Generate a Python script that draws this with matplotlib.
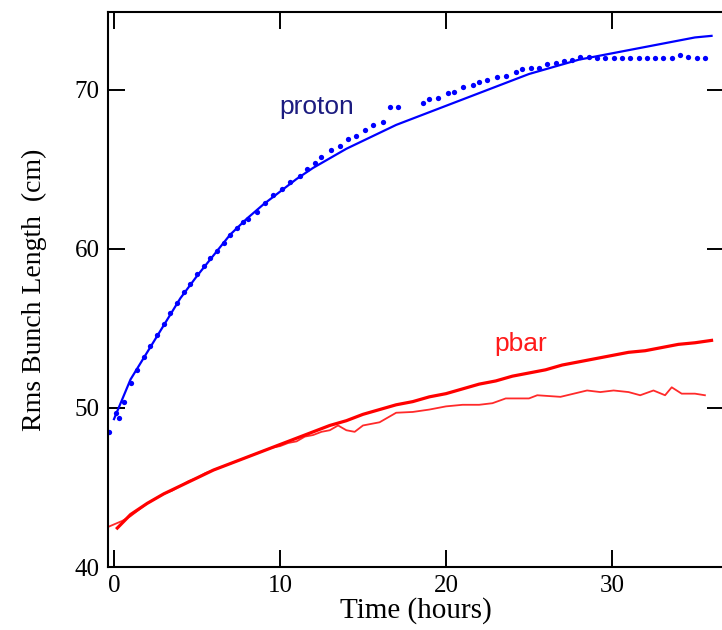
import matplotlib
matplotlib.use("Agg")
import matplotlib.pyplot as plt

# ---- data ----
proton_fit_t = [0, 1, 2, 3, 4, 5, 6, 7, 8, 9, 10, 11, 12, 13, 14, 15, 16, 17, 18,
                19, 20, 21, 22, 23, 24, 25, 26, 27, 28, 29, 30, 31, 32, 33, 34, 35, 36]
proton_fit_y = [49.3, 51.8, 53.5, 55.2, 56.9, 58.3, 59.6, 60.9, 61.9, 62.8, 63.6, 64.4,
                65.1, 65.7, 66.3, 66.8, 67.3, 67.8, 68.2, 68.6, 69.0, 69.4, 69.8, 70.2,
                70.6, 71.0, 71.3, 71.6, 71.9, 72.1, 72.3, 72.5, 72.7, 72.9, 73.1, 73.3, 73.4]

proton_meas_t = [-0.3, 0.1, 0.3, 0.6, 1.0, 1.4, 1.8, 2.2, 2.6, 3.0, 3.4, 3.8, 4.2, 4.6,
                 5.0, 5.4, 5.8, 6.2, 6.6, 7.0, 7.4, 7.8, 8.1, 8.6, 9.1, 9.6, 10.1, 10.6,
                 11.2, 11.6, 12.1, 12.5, 13.1, 13.6, 14.1, 14.6, 15.1, 15.6, 16.2, 16.6,
                 17.1, 18.6, 19.0, 19.5, 20.1, 20.5, 21.0, 21.6, 22.0, 22.5, 23.1, 23.6,
                 24.2, 24.6, 25.1, 25.6, 26.1, 26.6, 27.1, 27.6, 28.1, 28.6, 29.1, 29.6,
                 30.1, 30.6, 31.1, 31.6, 32.1, 32.6, 33.1, 33.6, 34.1, 34.6, 35.1, 35.6]
proton_meas_y = [48.5, 49.7, 49.4, 50.4, 51.6, 52.4, 53.2, 53.9, 54.6, 55.3, 56.0, 56.6,
                 57.3, 57.8, 58.4, 58.9, 59.4, 59.9, 60.4, 60.9, 61.3, 61.7, 61.9, 62.3,
                 62.9, 63.4, 63.8, 64.2, 64.6, 65.0, 65.4, 65.8, 66.2, 66.5, 66.9, 67.1,
                 67.5, 67.8, 68.0, 68.9, 68.9, 69.2, 69.4, 69.5, 69.8, 69.9, 70.2, 70.3,
                 70.5, 70.6, 70.8, 70.9, 71.1, 71.3, 71.4, 71.4, 71.6, 71.7, 71.8, 71.9,
                 72.1, 72.1, 72.0, 72.0, 72.0, 72.0, 72.0, 72.0, 72.0, 72.0, 72.0, 72.0,
                 72.2, 72.1, 72.0, 72.0]

pbar_fit_t = [0.2, 1, 2, 3, 4, 5, 6, 7, 8, 9, 10, 11, 12, 13, 14, 15, 16, 17, 18, 19,
              20, 21, 22, 23, 24, 25, 26, 27, 28, 29, 30, 31, 32, 33, 34, 35, 36]
pbar_fit_y = [42.45, 43.3, 44.0, 44.6, 45.1, 45.6, 46.1, 46.5, 46.9, 47.3, 47.7, 48.1,
              48.5, 48.9, 49.2, 49.6, 49.9, 50.2, 50.4, 50.7, 50.9, 51.2, 51.5, 51.7,
              52.0, 52.2, 52.4, 52.7, 52.9, 53.1, 53.3, 53.5, 53.6, 53.8, 54.0, 54.1, 54.25]

pbar_meas_t = [-0.4, 0.5, 1.0, 1.5, 2.0, 2.5, 3.0, 3.5, 4.0, 4.5, 5.0, 5.5, 6.0, 6.5,
               7.0, 7.5, 8.0, 8.5, 9.0, 9.5, 10.0, 10.5, 11.0, 11.5, 12.0, 12.5, 13.0,
               13.5, 14.0, 14.5, 15.0, 16.0, 16.5, 17.0, 18.0, 19.0, 20.0, 21.0, 22.0,
               22.8, 23.6, 24.3, 25.0, 25.5, 26.9, 28.5, 29.3, 30.1, 31.0, 31.7, 32.5,
               33.2, 33.6, 34.2, 35.0, 35.6]
pbar_meas_y = [42.5, 42.9, 43.2, 43.6, 44.0, 44.3, 44.6, 44.8, 45.1, 45.4, 45.6, 45.9,
               46.1, 46.3, 46.5, 46.7, 46.9, 47.1, 47.3, 47.5, 47.6, 47.8, 47.9, 48.2,
               48.3, 48.5, 48.6, 48.9, 48.6, 48.5, 48.9, 49.1, 49.4, 49.7, 49.75, 49.9,
               50.1, 50.2, 50.2, 50.3, 50.6, 50.6, 50.6, 50.8, 50.7, 51.1, 51.0, 51.1,
               51.0, 50.8, 51.1, 50.8, 51.3, 50.9, 50.9, 50.8]

x_ticks = [0, 10, 20, 30]
y_ticks = [40, 50, 60, 70]

# ---- figure ----
W, H = 722, 630
fig = plt.figure(figsize=(W / 100, H / 100), dpi=100)
ax = fig.add_axes([108 / W, 63 / H, (724 - 108) / W, (567 - 12) / H])

ax.plot(proton_fit_t, proton_fit_y, color="#0000ff", lw=1.6)
ax.plot(proton_meas_t, proton_meas_y, ls="none", marker="o", ms=3.8,
        color="#0000ff", mec="none")
ax.plot(pbar_meas_t, pbar_meas_y, color="#ff2a2a", lw=1.3)
ax.plot(pbar_fit_t, pbar_fit_y, color="#ff0000", lw=2.3)

ax.text(12.2, 68.9, "proton", color="#1c1c80", fontsize=19,
        family="Liberation Sans", ha="center", va="center")
ax.text(24.5, 54.0, "pbar", color="#ff1a1a", fontsize=19,
        family="Liberation Sans", ha="center", va="center")

ax.set_xlim(-0.36, 36.75)
ax.set_ylim(40, 74.9)
ax.set_xticks(x_ticks)
ax.set_yticks(y_ticks)
ax.tick_params(direction="in", length=12, width=1.4, top=True, right=True,
               labelsize=18, pad=6)
for lab in ax.get_xticklabels() + ax.get_yticklabels():
    lab.set_family("Liberation Serif")
for s in ax.spines.values():
    s.set_linewidth(1.5)

ax.set_xlabel("Time (hours)", family="Liberation Serif", fontsize=21, labelpad=0)
ax.set_ylabel("Rms Bunch Length  (cm)", family="Liberation Serif", fontsize=20,
              labelpad=20)

fig.savefig("out.png", dpi=100)
